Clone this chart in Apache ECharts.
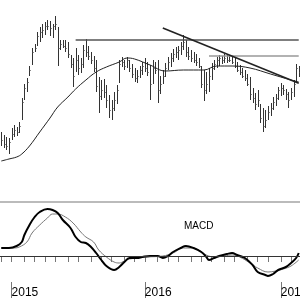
<!DOCTYPE html>
<html><head><meta charset="utf-8">
<script src="https://cdn.jsdelivr.net/npm/echarts@6/dist/echarts.min.js"></script>
<style>html,body{margin:0;padding:0;background:#fff}#c{width:300px;height:300px}</style>
</head><body><div id="c"></div>
<script>
// weekly categories (Fridays), first = 2014-12-05
const weekCount = 117;
const weeks = [];
(function(){ let t = Date.UTC(2014, 11, 5); for (let i = 0; i < weekCount; i++) { weeks.push(new Date(t).toISOString().slice(0, 10)); t += 7 * 864e5; } })();

const high = [34,32.5,31.5,31,36,37.5,36.5,39,51,58,
61,67,76,78,84,86.5,88,89,90,89.5,
88,92,86.5,80,80,80,79,72.5,71,76,
72.5,71,77.5,80.5,77,74,72,70,61.5,60,
60.5,57.5,52.5,50,54,57.5,70,71.5,70,71.5,
70,68,66,65,67,69,71,69,67.5,70,
69,70,62,65,68.5,71.5,73.5,75.5,76.5,77,
79,82.5,80,76.5,75,74,73,71,67,65,
64,66,68.5,70,71.5,72.5,72,73,73,72.5,
72,71,69,67.5,66,65,63,61.5,56,53.5,
55,48,46,45,47,48.5,51.5,53,56.5,58.5,
57.5,55.5,54,56,60,68,67];
const low = [27,26,25,23,30,31.5,32,33.5,40,50,
54,62,67.5,74,77,79,81,82.5,85,82,
81,85,67,75,76,74,71,66,56.5,64,
62.5,63.5,66,71.5,70,68,64,54,43.5,50,
51,46,41,40,44.5,48,58.5,66.5,65,66,
64,61,59,58.5,61,62.5,64,62,50,58,
63,48.5,53,58,61.5,65,66.5,69,71,70,
72.5,75,71.5,70,69,68.5,67,66,56,49.5,
53,54,60,65,66,67,68,68.5,68.5,69,
68,66,64,62.5,61,59.5,57,50,48.5,45,
46.5,38.5,34,36,40,42,45,47,50,52,
52.5,50,46,50,51.5,58.5,61.5];
const close = [30,28,27,29,33,35,34,37,49,56,
59,65,74,76,82,84,85,87,87,86,
87,88,76,78,77,76,73,68,62,70,
66,68,75,74,72,70,66,57,52,55,
54,50,45,46,50,55,68,69,67,70,
66,63,61,62,65,67,66,64,58,66,
65,55,58,62,66,69,71,73,74,75,
77,79,74,72,71,70,69,67,58,55,
58,62,66,68,70,71,70,71,70,70,
69,67,65,64,62,61,58,53,51,48,
50,41,37,40,44,46,49,51,55,56,
55,53,50,54,58,66,64];

const maWeek  = [0,3,6,8,11,15,19,22,26,29,33,37,41,46,49,52,58,64,71,79,84,90,97,105,113,116];
const maValue = [19.5,20.5,21.5,23,27,34,41,46.5,51.5,55.5,60,64,66.5,69,71,70.5,67.5,64.5,65,65,67,67,66,63,60,59];

const trendWeek = [63,116];
const trendValue = [86,58.4];
const resist1Week = [29,116];
const resist1Value = [80,80];
const resist2Week = [81,116];
const resist2Value = [72,72];

const macdWeek  = [0,3,6,8,9,11,13,15,18,20,22,24,27,29,31,33,35,37,39,41,44,46,48,50,53,55,58,61,63,65,67,70,72,75,78,80,81,83,85,88,90,92,95,98,100,103,104,106,108,111,113,115,116];
const macdValue = [0.8,0.8,1.0,1.4,2.1,3.1,3.9,4.4,4.7,4.6,4.3,3.6,2.8,1.9,1.4,1.3,0.9,0.3,-0.4,-1.0,-1.4,-1.1,-0.6,-0.2,-0.2,-0.1,0,0,-0.2,0,0.4,0.8,1.0,0.8,0.4,-0.1,-0.4,-0.2,0,0.2,0.3,0.1,-0.2,-0.9,-1.6,-1.9,-2.0,-1.8,-1.4,-1.1,-0.7,-0.2,0.3];
const signalWeek  = [0,5,7,10,12,15,18,20,22,25,28,31,33,36,38,41,44,46,48,50,57,63,67,71,74,77,80,83,87,90,93,97,100,104,107,110,113,116];
const signalValue = [0.8,0.8,0.9,1.4,2.3,3.1,3.8,4.2,4.2,3.9,3.3,2.4,1.9,1.4,0.6,-0.1,-0.6,-0.7,-0.5,-0.3,-0.1,0,0.3,0.8,0.8,0.6,0.1,-0.1,0,0.1,-0.1,-0.7,-1.2,-1.6,-1.5,-1.3,-1.0,-0.4];

const panelLabel = 'MACD';

const zip = (a, b) => a.map((v, i) => [v, b[i]]);
const isMonthStart = (i) => Number(weeks[i].slice(8, 10)) <= 7;
const isYearStart = (i) => isMonthStart(i) && weeks[i].slice(5, 7) === '01';
const FONT = 'Liberation Sans, Arial, sans-serif';

const chart = echarts.init(document.getElementById('c'), null, {renderer: 'canvas'});
chart.setOption({
  animation: false,
  backgroundColor: '#fff',
  grid: [
    {left: 0, right: 0, top: 0, height: 200, outerBoundsMode: 'none'},
    {left: 0, right: 0, top: 202, height: 80, outerBoundsMode: 'none'}
  ],
  graphic: [{type: 'text', left: 184, top: 221, style: {text: panelLabel, font: '10px ' + FONT, fill: '#000'}}],
  xAxis: [
    {gridIndex: 0, type: 'category', data: weeks, show: false},
    {gridIndex: 1, type: 'category', data: weeks, position: 'bottom', offset: 0,
      axisLine: {show: false},
      axisTick: {show: true, alignWithLabel: true, length: 6, interval: (i) => isMonthStart(i), lineStyle: {color: '#777', width: 1}},
      axisLabel: {show: false}, splitLine: {show: false}},
    {gridIndex: 1, type: 'category', data: weeks, position: 'bottom', offset: 0,
      axisLine: {show: false},
      axisTick: {show: true, alignWithLabel: true, length: 16, interval: (i) => isYearStart(i), lineStyle: {color: '#777', width: 1}},
      axisLabel: {show: true, interval: (i) => isYearStart(i), formatter: (v) => v.slice(0, 4), align: 'left', margin: 5,
        fontSize: 12, fontFamily: FONT, color: '#000'}, splitLine: {show: false}},
    {gridIndex: 1, type: 'category', data: weeks, position: 'top', offset: 0,
      axisLine: {show: true, lineStyle: {color: '#bbb', width: 2}},
      axisTick: {show: false}, axisLabel: {show: false}, splitLine: {show: false}}
  ],
  yAxis: [
    {gridIndex: 0, type: 'value', min: 0, max: 100, show: false, splitLine: {show: false}},
    {gridIndex: 1, type: 'value', min: -2.6, max: 5.4, show: false, splitLine: {show: false}}
  ],
  series: [
    {type: 'custom', xAxisIndex: 0, yAxisIndex: 0,
      data: weeks.map((w, i) => [i, high[i], low[i], close[i]]),
      encode: {x: 0, y: [1, 2, 3]},
      renderItem: function (params, api) {
        const i = api.value(0);
        const ph = api.coord([i, api.value(1)]);
        const pl = api.coord([i, api.value(2)]);
        const pc = api.coord([i, api.value(3)]);
        const x = Math.round(ph[0]) + 0.5;
        return {type: 'group', children: [
          {type: 'line', shape: {x1: x, y1: ph[1], x2: x, y2: pl[1]}, style: {stroke: '#333', lineWidth: 1}},
          {type: 'line', shape: {x1: x, y1: Math.round(pc[1]) + 0.5, x2: x + 1.2, y2: Math.round(pc[1]) + 0.5}, style: {stroke: '#555', lineWidth: 1}}
        ]};
      }},
    {type: 'line', xAxisIndex: 0, yAxisIndex: 0, data: zip(maWeek, maValue), smooth: 0.4, symbol: 'none',
      lineStyle: {color: '#222', width: 1}},
    {type: 'line', xAxisIndex: 0, yAxisIndex: 0, data: zip(resist1Week, resist1Value), symbol: 'none',
      lineStyle: {color: '#555', width: 1.5}},
    {type: 'line', xAxisIndex: 0, yAxisIndex: 0, data: zip(resist2Week, resist2Value), symbol: 'none',
      lineStyle: {color: '#999', width: 1.5}},
    {type: 'line', xAxisIndex: 0, yAxisIndex: 0, data: zip(trendWeek, trendValue), symbol: 'none',
      lineStyle: {color: '#222', width: 1.6}},
    {type: 'line', xAxisIndex: 1, yAxisIndex: 1, data: zip(signalWeek, signalValue), smooth: 0.4, symbol: 'none',
      lineStyle: {color: '#777', width: 1}},
    {type: 'line', xAxisIndex: 1, yAxisIndex: 1, data: zip(macdWeek, macdValue), smooth: 0.4, symbol: 'none',
      lineStyle: {color: '#000', width: 2},
      markLine: {silent: true, symbol: 'none', label: {show: false}, lineStyle: {color: '#333', width: 1, type: 'solid'},
        data: [{yAxis: 0}]}}
  ]
});
</script>
</body></html>
